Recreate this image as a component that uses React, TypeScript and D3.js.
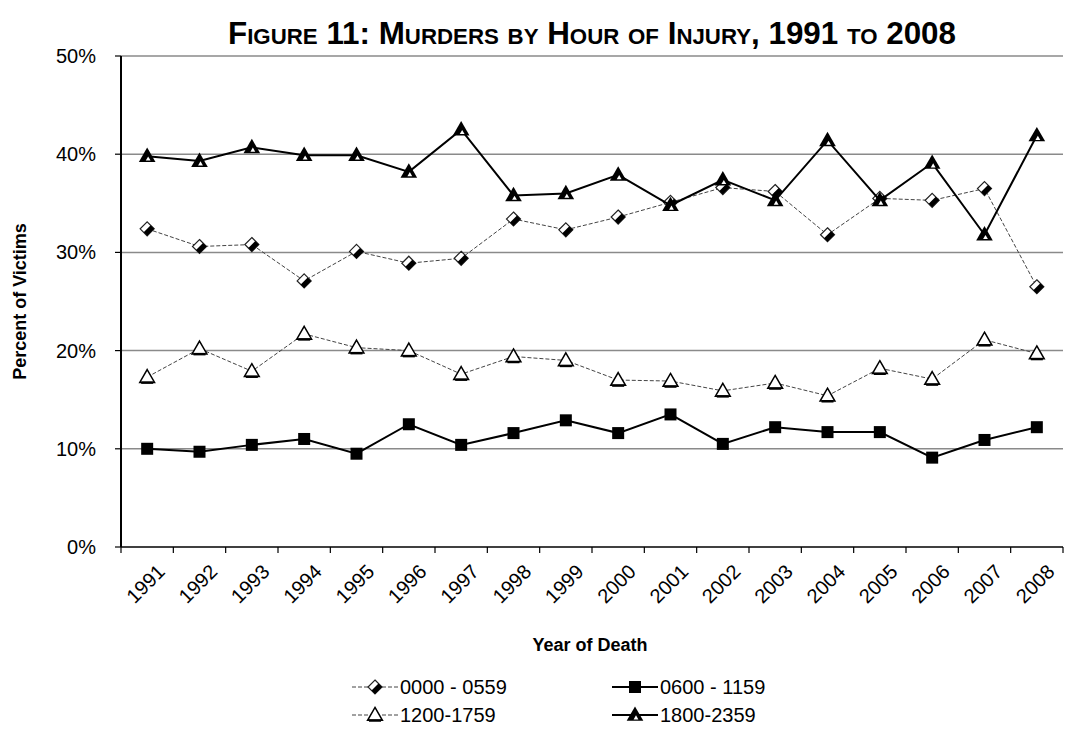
import React from 'react';
import * as d3 from 'd3';

// values (percent of victims)
const years = [
  '1991', '1992', '1993', '1994', '1995', '1996', '1997', '1998', '1999',
  '2000', '2001', '2002', '2003', '2004', '2005', '2006', '2007', '2008',
];
const night = [32.4, 30.6, 30.8, 27.1, 30.1, 28.9, 29.4, 33.4, 32.3, 33.6, 35.1, 36.6, 36.2, 31.8, 35.5, 35.3, 36.5, 26.5];
const morning = [10.0, 9.7, 10.4, 11.0, 9.5, 12.5, 10.4, 11.6, 12.9, 11.6, 13.5, 10.5, 12.2, 11.7, 11.7, 9.1, 10.9, 12.2];
const afternoon = [17.3, 20.2, 17.9, 21.7, 20.3, 20.0, 17.6, 19.4, 19.0, 17.0, 16.9, 15.9, 16.7, 15.4, 18.2, 17.1, 21.1, 19.7];
const evening = [39.8, 39.3, 40.7, 39.9, 39.9, 38.2, 42.5, 35.8, 36.0, 37.9, 34.8, 37.4, 35.3, 41.4, 35.3, 39.1, 31.8, 41.9];
const seriesNames = ['0000 - 0559', '0600 - 1159', '1200-1759', '1800-2359'];
const yTicks = [0, 10, 20, 30, 40, 50];

const W = 1079;
const H = 731;
const font = 'Arial, "Liberation Sans", sans-serif';

type Kind = 'diamond' | 'square' | 'openTri' | 'tri';

const seriesDefs: { name: string; values: number[]; kind: Kind; heavy: boolean }[] = [
  { name: seriesNames[0], values: night, kind: 'diamond', heavy: false },
  { name: seriesNames[1], values: morning, kind: 'square', heavy: true },
  { name: seriesNames[2], values: afternoon, kind: 'openTri', heavy: false },
  { name: seriesNames[3], values: evening, kind: 'tri', heavy: true },
];

const Marker = ({ kind, x, y }: { kind: Kind; x: number; y: number }) => {
  if (kind === 'square') {
    return <rect x={x - 6} y={y - 6} width={12} height={12} fill="#000" />;
  }
  if (kind === 'diamond') {
    const s = 7;
    return (
      <g>
        <path d={`M${x},${y - s}L${x + s},${y}L${x},${y + s}L${x - s},${y}Z`} fill="#fff" stroke="#222" strokeWidth={1.2} />
        <path d={`M${x + s},${y}L${x},${y + s}L${x - s / 2},${y + s / 2}L${x + s / 2},${y - s / 2}Z`} fill="#000" />
      </g>
    );
  }
  if (kind === 'tri') {
    return (
      <g transform={`translate(${x},${y + 1})`}>
        <path d={d3.symbol(d3.symbolTriangle, 120)()!} fill="#000" />
        <path d={d3.symbol(d3.symbolTriangle, 10)()!} fill="#fff" transform="translate(1,2)" />
      </g>
    );
  }
  return (
    <g transform={`translate(${x},${y + 1})`}>
      <path d={d3.symbol(d3.symbolTriangle, 95)()!} fill="#fff" stroke="#000" strokeWidth={1.5} />
      <line x1={-6} x2={6} y1={4.5} y2={4.5} stroke="#000" strokeWidth={2.5} />
    </g>
  );
};

const App = () => {
  const left = 121;
  const right = 1063;
  const top = 56;
  const bottom = 547;

  const x = d3.scaleBand<string>().domain(years).range([left, right]).padding(0);
  const cx = (d: string) => x(d)! + x.bandwidth() / 2;
  const y = d3.scaleLinear().domain([0, 50]).range([bottom, top]);

  const line = d3
    .line<number>()
    .x((_, i) => cx(years[i]))
    .y((v) => y(v));

  const boundaries = years.map((d) => x(d)!).concat([right]);

  const legendPos = [
    { lx: 352, ly: 687 },
    { lx: 612, ly: 687 },
    { lx: 352, ly: 715 },
    { lx: 612, ly: 715 },
  ];

  return (
    <svg
      width={W}
      height={H}
      style={{ position: 'absolute', left: 0, top: 0, background: '#fff' }}
      fontFamily={font}
    >
      <rect width={W} height={H} fill="#fff" />
      <text
        x={592}
        y={44}
        textAnchor="middle"
        fontWeight="bold"
        fontSize={31}
        style={{ fontVariant: 'small-caps' }}
        textLength={728}
        lengthAdjust="spacingAndGlyphs"
      >
        Figure 11: Murders by Hour of Injury, 1991 to 2008
      </text>

      {/* gridlines */}
      {yTicks
        .filter((t) => t > 0)
        .map((t) => (
          <line key={t} x1={left} x2={right} y1={y(t)} y2={y(t)} stroke="#8a8a8a" strokeWidth={1.5} />
        ))}

      {/* y axis */}
      <line x1={left} x2={left} y1={top} y2={bottom} stroke="#000" strokeWidth={2} />
      {yTicks.map((t) => (
        <g key={t}>
          <line x1={left - 6} x2={left} y1={y(t)} y2={y(t)} stroke="#000" strokeWidth={1.2} />
          <text x={96} y={y(t) + 7} textAnchor="end" fontSize={20}>
            {t}%
          </text>
        </g>
      ))}

      {/* x axis */}
      <line x1={left} x2={right} y1={bottom} y2={bottom} stroke="#000" strokeWidth={1.5} />
      {boundaries.map((b, i) => (
        <line key={i} x1={b} x2={b} y1={bottom} y2={bottom + 6} stroke="#000" strokeWidth={1.2} />
      ))}
      {years.map((d) => (
        <text
          key={d}
          transform={`translate(${cx(d) + 19},${bottom + 26}) rotate(-45)`}
          textAnchor="end"
          fontSize={20}
        >
          {d}
        </text>
      ))}

      {/* series */}
      {seriesDefs.map((s) => (
        <g key={s.name}>
          <path
            d={line(s.values)!}
            fill="none"
            stroke={s.heavy ? '#000' : '#444'}
            strokeWidth={s.heavy ? 2 : 1}
            strokeDasharray={s.heavy ? undefined : '4,2'}
          />
          {s.values.map((v, i) => (
            <Marker key={i} kind={s.kind} x={cx(years[i])} y={y(v)} />
          ))}
        </g>
      ))}

      {/* axis titles */}
      <text
        transform={`translate(26,${(top + bottom) / 2}) rotate(-90)`}
        textAnchor="middle"
        fontWeight="bold"
        fontSize={18}
      >
        Percent of Victims
      </text>
      <text x={590} y={651} textAnchor="middle" fontWeight="bold" fontSize={18}>
        Year of Death
      </text>

      {/* legend */}
      {seriesDefs.map((s, i) => {
        const p = legendPos[i];
        return (
          <g key={s.name}>
            <line
              x1={p.lx}
              x2={p.lx + 46}
              y1={p.ly}
              y2={p.ly}
              stroke={s.heavy ? '#000' : '#444'}
              strokeWidth={s.heavy ? 2 : 1}
              strokeDasharray={s.heavy ? undefined : '4,2'}
            />
            <Marker kind={s.kind} x={p.lx + 23} y={p.ly} />
            <text x={p.lx + 48} y={p.ly + 7} fontSize={20}>
              {s.name}
            </text>
          </g>
        );
      })}
    </svg>
  );
};

export default App;
